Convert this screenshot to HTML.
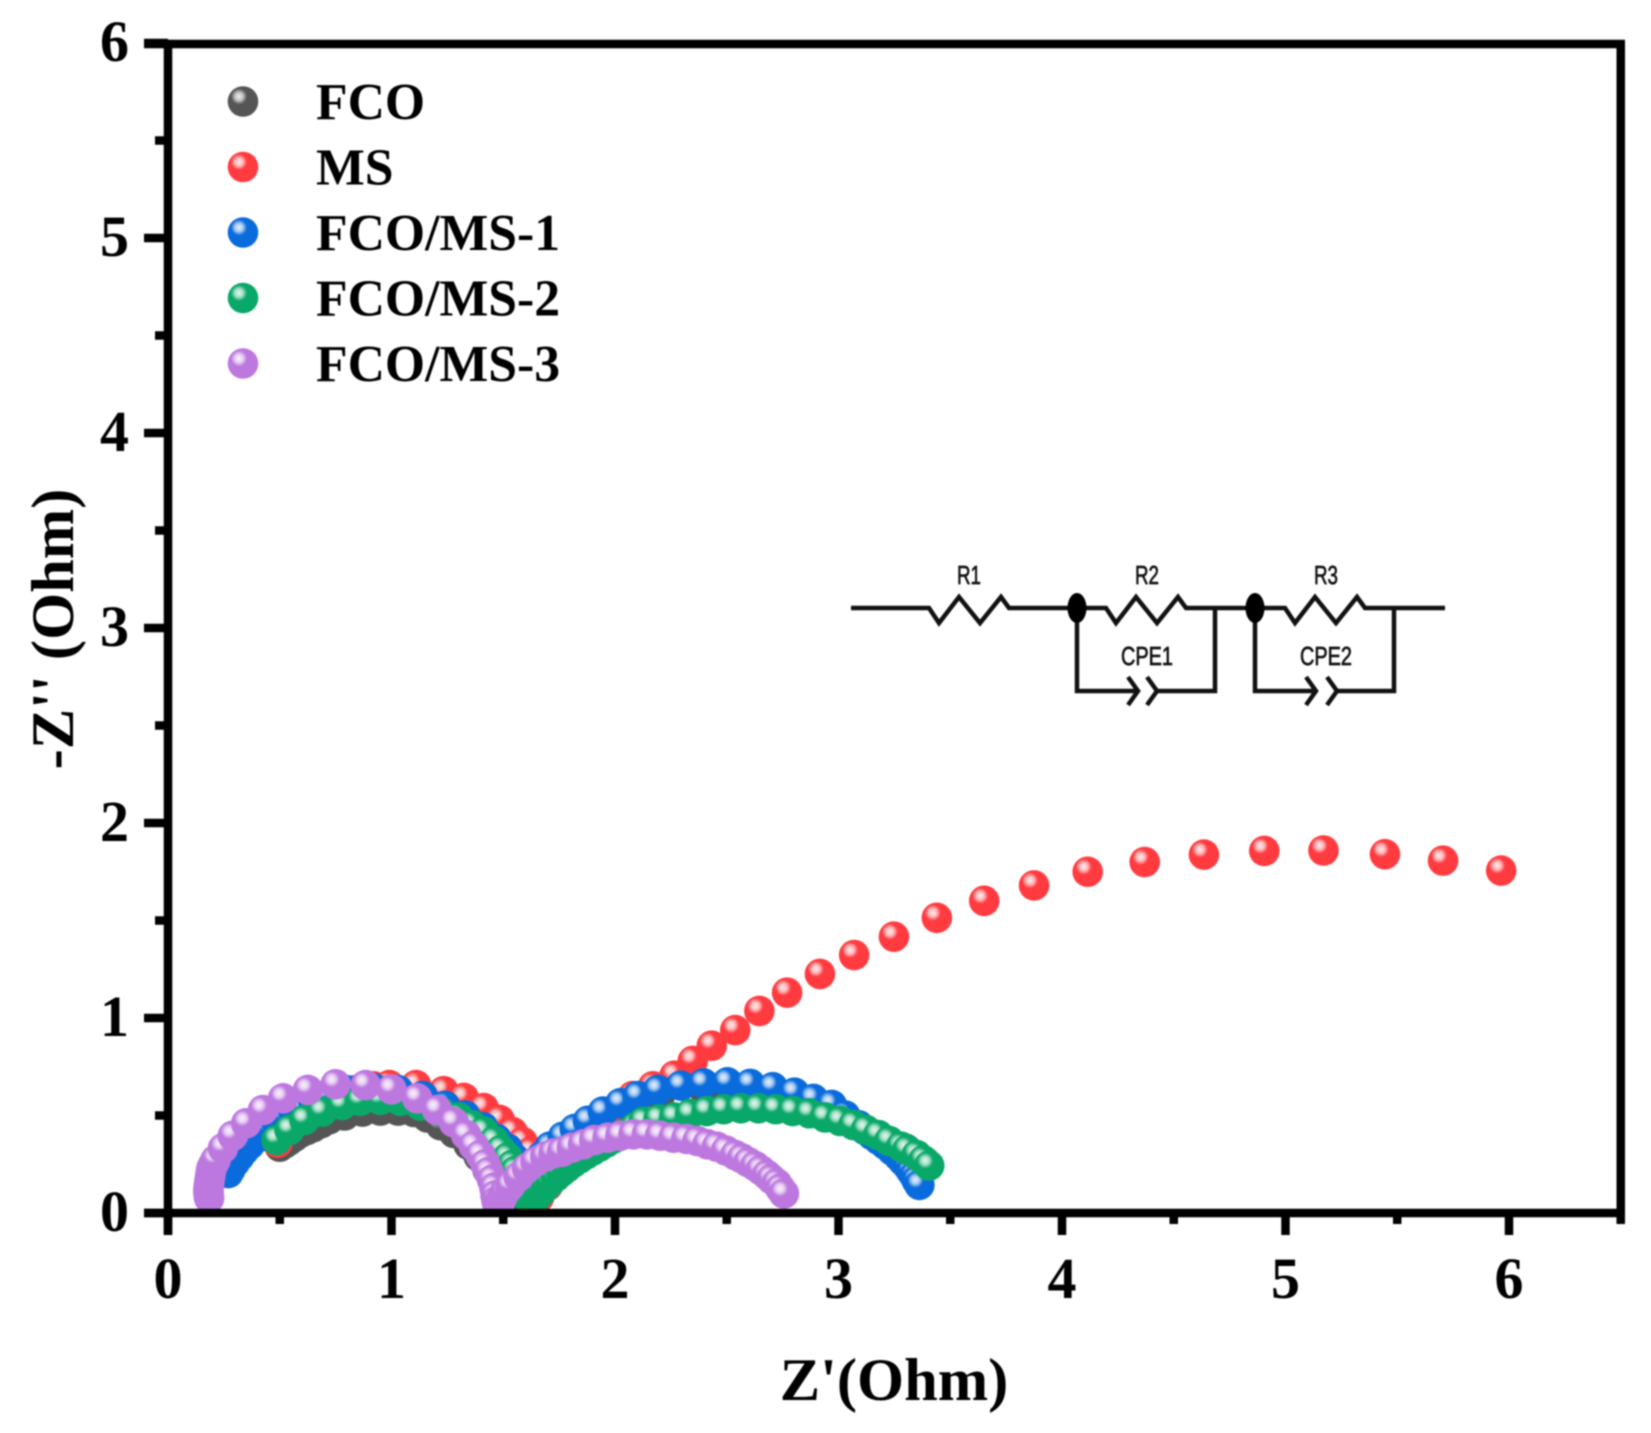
<!DOCTYPE html>
<html lang="en">
<head>
<meta charset="utf-8">
<title>Nyquist plot</title>
<style>
html,body{margin:0;padding:0;background:#fff;width:1651px;height:1433px;overflow:hidden}
svg{display:block;filter:blur(0.7px)}
text{font-family:"Liberation Serif",serif;font-weight:700;fill:#000}
.cir{font-family:"Liberation Sans",sans-serif;font-weight:400;font-size:26px;fill:#111;stroke:#111;stroke-width:0.7px;text-anchor:middle}
</style>
</head>
<body>
<svg id="chart" xmlns="http://www.w3.org/2000/svg" width="1651" height="1433" viewBox="0 0 1651 1433">
  <defs>
    <radialGradient id="shine">
      <stop offset="0" stop-color="#fff" stop-opacity="0.9"/>
      <stop offset="0.5" stop-color="#fff" stop-opacity="0.65"/>
      <stop offset="1" stop-color="#fff" stop-opacity="0"/>
    </radialGradient>
    <clipPath id="plot-clip"><rect x="160" y="40" width="1470" height="1172"/></clipPath>
  </defs>
  <rect width="1651" height="1433" fill="#fff"/>
  <g id="marks" clip-path="url(#plot-clip)"></g>
  <g id="axes"></g>
  <g id="legend"></g>
  <text x="894" y="1400" font-size="60.5" text-anchor="middle">Z'(Ohm)</text>
  <text transform="translate(73 629) rotate(-90)" font-size="60.5" text-anchor="middle">-Z'' (Ohm)</text>
  <g fill="none" stroke="#111" stroke-width="4.5">
    <polyline points="851,608 929,608 939,623 959,597 980,623 1001,597 1009,608 1106,608 1116,623 1136,597 1157,623 1178,597 1186,608 1285,608 1295,623 1315,597 1336,623 1357,597 1365,608 1445,608"/>
    <polyline points="1077,608 1077,691 1136,691"/>
    <polyline points="1157,691 1215,691 1215,608"/>
    <polyline points="1128,677 1138,691 1128,705"/>
    <polyline points="1147,677 1157,691 1147,705"/>
    <polyline points="1255,608 1255,691 1313,691"/>
    <polyline points="1335,691 1394,691 1394,608"/>
    <polyline points="1306,677 1316,691 1306,705"/>
    <polyline points="1327,677 1337,691 1327,705"/>
    <ellipse cx="1077" cy="608" rx="9.5" ry="15" fill="#000" stroke="none"/>
    <ellipse cx="1255" cy="608" rx="9.5" ry="15" fill="#000" stroke="none"/>
  </g>
  <text class="cir" x="969" y="584" textLength="24" lengthAdjust="spacingAndGlyphs">R1</text>
  <text class="cir" x="1147" y="584" textLength="24" lengthAdjust="spacingAndGlyphs">R2</text>
  <text class="cir" x="1326" y="584" textLength="24" lengthAdjust="spacingAndGlyphs">R3</text>
  <text class="cir" x="1147" y="665" textLength="52" lengthAdjust="spacingAndGlyphs">CPE1</text>
  <text class="cir" x="1326" y="665" textLength="52" lengthAdjust="spacingAndGlyphs">CPE2</text>
</svg>
<script>
const xTickLabels = [0, 1, 2, 3, 4, 5, 6];
const yTickLabels = [0, 1, 2, 3, 4, 5, 6];
const xMinorTicks = [0.5, 1.5, 2.5, 3.5, 4.5, 5.5, 6.5];
const yMinorTicks = [0.5, 1.5, 2.5, 3.5, 4.5, 5.5];
const seriesNames = ['FCO', 'MS', 'FCO/MS-1', 'FCO/MS-2', 'FCO/MS-3'];
const seriesColors = ['#555555', '#ff3b40', '#0a6bdc', '#0aa868', '#bd78df'];

const fcoX = [0.5,0.52,0.54,0.565,0.59,0.62,0.65,0.685,0.72,0.79,0.87,0.95,1.03,1.1,1.16,1.22,1.28,1.345,1.39,1.43,1.46,1.48,1.52,1.56,1.6,1.7,1.85,2.0,2.2,2.4,2.6,2.8,2.95,3.08,3.2,3.3,3.35,3.39];
const fcoY = [0.34,0.355,0.37,0.39,0.41,0.425,0.44,0.46,0.48,0.5,0.52,0.525,0.525,0.518,0.49,0.45,0.41,0.35,0.29,0.22,0.15,0.09,0.05,0.05,0.1,0.28,0.42,0.52,0.6,0.63,0.62,0.58,0.52,0.45,0.38,0.33,0.295,0.26];

const msX = [0.49,0.53,0.58,0.64,0.7,0.77,0.84,0.92,0.99,1.11,1.234,1.324,1.413,1.484,1.542,1.587,1.623,1.65,1.66,1.7,1.75,1.81,1.87,1.94,2.01,2.08,2.17,2.266,2.348,2.433,2.538,2.646,2.77,2.917,3.07,3.248,3.44,3.652,3.875,4.115,4.37,4.635,4.905,5.17,5.445,5.705,5.965];
const msY = [0.36,0.42,0.47,0.52,0.56,0.6,0.63,0.65,0.656,0.656,0.625,0.59,0.538,0.477,0.415,0.364,0.313,0.2,0.08,0.14,0.22,0.3,0.37,0.45,0.53,0.6,0.65,0.704,0.78,0.858,0.938,1.036,1.13,1.226,1.323,1.417,1.514,1.601,1.68,1.75,1.8,1.838,1.857,1.859,1.84,1.807,1.756];

const ms1X = [0.27,0.28,0.3,0.32,0.34,0.365,0.39,0.42,0.45,0.485,0.52,0.56,0.6,0.65,0.7,0.8,0.92,1.03,1.14,1.24,1.33,1.41,1.47,1.52,1.55,1.57,1.58,1.58,1.6,1.62,1.64,1.67,1.708,1.767,1.82,1.879,1.946,2.024,2.102,2.192,2.295,2.396,2.503,2.605,2.706,2.803,2.888,2.97,3.03,3.09,3.12,3.15,3.18,3.21,3.24,3.27,3.29,3.31,3.325,3.34,3.35,3.362];
const ms1Y = [0.205,0.225,0.26,0.29,0.32,0.35,0.38,0.41,0.44,0.47,0.5,0.525,0.55,0.575,0.6,0.63,0.64,0.63,0.6,0.55,0.5,0.44,0.38,0.33,0.28,0.23,0.18,0.14,0.14,0.19,0.24,0.29,0.34,0.391,0.431,0.473,0.52,0.563,0.6,0.631,0.653,0.665,0.67,0.662,0.645,0.617,0.585,0.554,0.5,0.45,0.425,0.4,0.375,0.35,0.32,0.29,0.265,0.24,0.215,0.19,0.167,0.144];

const ms2X = [0.486,0.544,0.611,0.69,0.779,0.86,0.95,1.04,1.13,1.22,1.3,1.36,1.413,1.46,1.49,1.52,1.54,1.554,1.57,1.58,1.6,1.62,1.64,1.655,1.67,1.69,1.71,1.735,1.76,1.785,1.81,1.84,1.87,1.9,1.93,1.96,1.99,2.02,2.05,2.09,2.128,2.195,2.265,2.336,2.411,2.486,2.563,2.642,2.719,2.795,2.87,2.94,3.007,3.067,3.123,3.178,3.227,3.28,3.308,3.35,3.38,3.406];
const ms2Y = [0.374,0.426,0.477,0.52,0.554,0.575,0.58,0.575,0.55,0.52,0.49,0.45,0.417,0.369,0.323,0.284,0.246,0.215,0.17,0.13,0.09,0.06,0.07,0.09,0.11,0.135,0.16,0.185,0.21,0.233,0.255,0.278,0.3,0.32,0.34,0.36,0.38,0.395,0.41,0.44,0.468,0.48,0.49,0.508,0.523,0.532,0.537,0.537,0.532,0.523,0.511,0.49,0.472,0.451,0.426,0.4,0.369,0.34,0.323,0.297,0.27,0.243];

const ms3X = [0.184,0.183,0.182,0.1815,0.181,0.181,0.181,0.1815,0.182,0.183,0.184,0.185,0.186,0.188,0.19,0.192,0.194,0.203,0.213,0.246,0.29,0.35,0.425,0.515,0.626,0.75,0.884,1.0,1.115,1.204,1.279,1.334,1.368,1.398,1.42,1.435,1.45,1.46,1.465,1.47,1.475,1.48,1.485,1.495,1.51,1.532,1.569,1.606,1.644,1.688,1.725,1.763,1.807,1.857,1.907,1.967,2.024,2.083,2.143,2.202,2.262,2.319,2.369,2.414,2.456,2.497,2.538,2.568,2.597,2.627,2.652,2.68,2.7,2.724,2.74,2.756];
const ms3Y = [0.076,0.083,0.09,0.098,0.105,0.113,0.12,0.128,0.135,0.143,0.15,0.16,0.17,0.185,0.2,0.215,0.229,0.25,0.272,0.332,0.396,0.46,0.528,0.588,0.631,0.66,0.656,0.634,0.588,0.528,0.465,0.4,0.344,0.297,0.25,0.21,0.17,0.13,0.09,0.06,0.04,0.03,0.05,0.08,0.11,0.14,0.186,0.23,0.263,0.289,0.306,0.314,0.335,0.352,0.374,0.386,0.396,0.403,0.403,0.396,0.386,0.38,0.369,0.352,0.34,0.32,0.297,0.28,0.26,0.241,0.22,0.195,0.174,0.152,0.125,0.1];

const seriesX = [fcoX, msX, ms1X, ms2X, ms3X];
const seriesY = [fcoY, msY, ms1Y, ms2Y, ms3Y];

const NS = 'http://www.w3.org/2000/svg';
const xScale = v => 168 + 223.5 * v;
const yScale = v => 1213 - 195 * v;

function make(tag, attrs, parent) {
  const el = document.createElementNS(NS, tag);
  for (const k in attrs) el.setAttribute(k, attrs[k]);
  parent.appendChild(el);
  return el;
}
function drawMarker(parent, cx, cy, color) {
  const g = make('g', {}, parent);
  make('circle', { cx: cx, cy: cy, r: 15.3, fill: color }, g);
  make('circle', { cx: cx - 4, cy: cy - 5, r: 8, fill: 'url(#shine)' }, g);
  return g;
}

const marks = document.getElementById('marks');
seriesNames.forEach(function (name, s) {
  const group = make('g', {}, marks);
  
  
  seriesX[s].forEach(function (x, i) {
    const m = drawMarker(group, xScale(x), yScale(seriesY[s][i]), seriesColors[s]);
    
    
  });
});

const axes = document.getElementById('axes');
function line(x1, y1, x2, y2, name) {
  const l = make('line', { x1: x1, y1: y1, x2: x2, y2: y2, stroke: '#000', 'stroke-width': 8.5 }, axes);
  
  
}
line(xScale(0), 40, xScale(0), 1235, 'y-axis-line');
line(144, 44, 1625, 44, 'top-border');
line(144, yScale(0), 1625, yScale(0), 'x-axis-line');
line(xScale(6.5), 44, xScale(6.5), 1224, 'right-border');
xTickLabels.forEach(function (v) {
  line(xScale(v), 1213, xScale(v), 1235, 'x-major-tick');
  const t = make('text', { x: xScale(v), y: 1298, 'font-size': 58, 'text-anchor': 'middle' }, axes);
  t.textContent = v;
  
  
});
xMinorTicks.forEach(function (v) {
  line(xScale(v), 1213, xScale(v), 1224, 'x-minor-tick');
});
yTickLabels.forEach(function (v) {
  line(144, yScale(v), 168, yScale(v), 'y-major-tick');
  const t = make('text', { x: 129, y: yScale(v) + 18, 'font-size': 58, 'text-anchor': 'end' }, axes);
  t.textContent = v;
  
  
});
yMinorTicks.forEach(function (v) {
  line(155, yScale(v), 168, yScale(v), 'y-minor-tick');
});

const legend = document.getElementById('legend');
const legendRowGap = 65.5;
seriesNames.forEach(function (name, i) {
  const cy = 101.5 + legendRowGap * i;
  const row = make('g', {}, legend);
  
  
  const m = drawMarker(row, 243, cy, seriesColors[i]);
  
  
  const t = make('text', { x: 316, y: cy + 17.5, 'font-size': 51.7 }, row);
  t.textContent = name;
  
  
});
</script>
</body>
</html>
